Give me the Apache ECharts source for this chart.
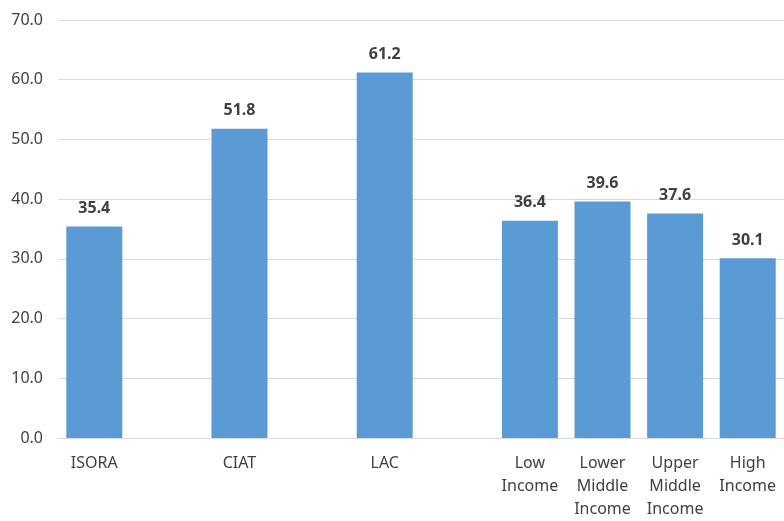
<!DOCTYPE html>
<html>
<head>
<meta charset="utf-8">
<script src="https://cdn.jsdelivr.net/npm/echarts@6/dist/echarts.min.js"></script>
<style>
  html, body { margin: 0; padding: 0; background: #ffffff; }
  #chart { width: 784px; height: 521px; }
</style>
</head>
<body>
<div id="chart"></div>
<script>
// Categories; empty strings are spacer slots between the groups
const categories = ['ISORA', '', 'CIAT', '', 'LAC', '', 'Low\nIncome', 'Lower\nMiddle\nIncome', 'Upper\nMiddle\nIncome', 'High\nIncome'];
const values = [35.4, null, 51.8, null, 61.2, null, 36.4, 39.6, 37.6, 30.1];
const yTicks = { min: 0, max: 70, interval: 10 };

const font = 'Source Sans Pro, "Noto Sans", "Open Sans", sans-serif';

const chart = echarts.init(document.getElementById('chart'), null, { renderer: 'canvas' });
chart.setOption({
  animation: false,
  backgroundColor: '#ffffff',
  grid: { left: 58, right: -4, top: 20, bottom: 80, containLabel: false },
  xAxis: {
    type: 'category',
    data: categories,
    axisTick: { show: false },
    axisLine: { lineStyle: { color: '#d9d9d9', width: 1 } },
    axisLabel: {
      interval: 0,
      color: '#404040',
      fontFamily: font,
      fontSize: 16,
      lineHeight: 23,
      margin: 14
    }
  },
  yAxis: {
    type: 'value',
    min: yTicks.min,
    max: yTicks.max,
    interval: yTicks.interval,
    axisLine: { show: false },
    axisTick: { show: false },
    splitLine: { lineStyle: { color: '#d9d9d9', width: 1 } },
    axisLabel: {
      color: '#404040',
      fontFamily: font,
      fontSize: 16,
      margin: 15,
      formatter: v => v.toFixed(1)
    }
  },
  series: [{
    type: 'bar',
    data: values.map(v => (v === null ? '-' : v)),
    barWidth: 56,
    itemStyle: { color: '#5b9bd5' },
    label: {
      show: true,
      position: 'top',
      distance: 10,
      color: '#404040',
      fontFamily: font,
      fontSize: 16,
      fontWeight: 'bold',
      formatter: p => p.value.toFixed(1)
    }
  }]
});
</script>
</body>
</html>
